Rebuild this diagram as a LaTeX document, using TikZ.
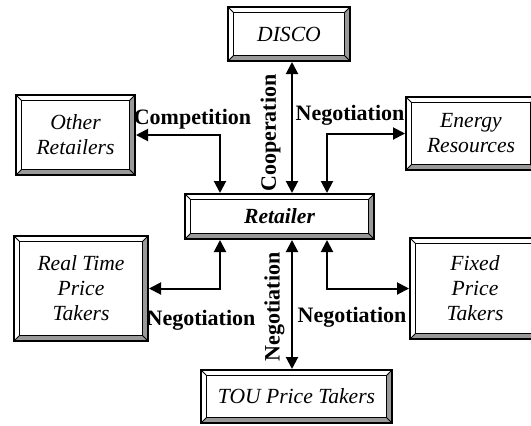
\documentclass[tikz,border=0pt]{standalone}
\usepackage{fontspec}
\setmainfont{Liberation Serif}
\usepackage{tikz}
\usetikzlibrary{arrows.meta}
\definecolor{bevelgrey}{gray}{0.6}
\tikzset{
  bevelbox/.style={draw, line width=1pt, inner sep=0pt, align=center,
    font=\fontsize{10.8}{12.5}\selectfont\itshape,
    path picture={
      \coordinate (bl) at (path picture bounding box.south west);
      \coordinate (tr) at (path picture bounding box.north east);
      \coordinate (ibl) at ([shift={(2.75pt,2.75pt)}]bl);
      \coordinate (itr) at ([shift={(-2.75pt,-2.75pt)}]tr);
      \fill[bevelgrey] (bl) -- (bl -| tr) -- (tr) -- (itr) -- (itr |- ibl) -- (ibl) -- cycle;
      \draw[line width=0.8pt] (ibl) rectangle (itr);
      \draw[line width=0.5pt] (bl) -- (ibl) (tr) -- (itr)
        (bl -| tr) -- (ibl -| itr) (bl |- tr) -- (ibl |- itr);
    }},
  link/.style={line width=1pt, {Triangle[length=6pt,width=6pt]}-{Triangle[length=6pt,width=6pt]}},
  lbl/.style={font=\fontsize{11}{13}\selectfont\bfseries, inner sep=0pt}
}
\begin{document}
\begin{tikzpicture}[x=0.5pt,y=-0.5pt]
\useasboundingbox (0,0) rectangle (531,425);
\clip (0,0) rectangle (531,425);
% boxes
\node[bevelbox, minimum width=61pt, minimum height=27pt] (disco) at (289,34) {DISCO};
\node[bevelbox, minimum width=59.5pt, minimum height=40pt] (other) at (75.5,135) {Other\\Retailers};
\node[bevelbox, minimum width=65pt, minimum height=36.5pt] (energy) at (471,133.5) {Energy\\Resources};
\node[bevelbox, minimum width=94.5pt, minimum height=22.5pt, font=\fontsize{10.8}{12.5}\selectfont\bfseries\itshape] (retailer) at (279.5,216.5) {Retailer};
\node[bevelbox, minimum width=67pt, minimum height=52.5pt] (rtp) at (81,288.5) {Real Time\\Price\\Takers};
\node[bevelbox, minimum width=65pt, minimum height=50.5pt] (fixed) at (475,288.5) {Fixed\\Price\\Takers};
\node[bevelbox, minimum width=95.5pt, minimum height=26.5pt] (tou) at (296.5,396.5) {TOU Price Takers};
% connectors
\draw[link] (other.east) -| ([xshift=18pt]retailer.north west);
\draw[link] (energy.west) -| ([xshift=-24pt]retailer.north east);
\draw[link] ([xshift=1.5pt]disco.south) -- ([xshift=1.5pt]disco.south |- retailer.north);
\draw[link] (rtp.east) -| ([xshift=18pt]retailer.south west);
\draw[link] (fixed.west) -| ([xshift=-24pt]retailer.south east);
\draw[link] ([xshift=-2.25pt]tou.north) -- ([xshift=-2.25pt]tou.north |- retailer.south);
% labels
\node[lbl, anchor=base] (lcomp) at (192.5,124) {Competition};
\node[lbl, anchor=base] (lneg1) at (350,120) {Negotiation};
\node[lbl, anchor=south, rotate=90] (lcoop) at (281,133) {Cooperation};
\node[lbl, anchor=base] (lneg2) at (201,325) {Negotiation};
\node[lbl, anchor=base] (lneg3) at (352,322) {Negotiation};
\node[lbl, anchor=south, rotate=90] (lneg4) at (285,307) {Negotiation};
\end{tikzpicture}
\end{document}
